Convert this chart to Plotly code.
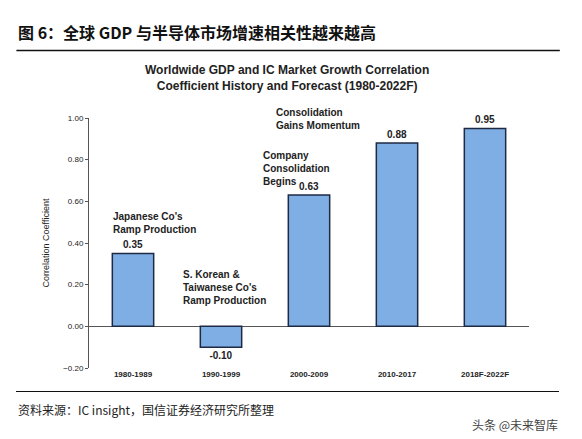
import plotly.graph_objects as go

periods = ['1980-1989', '1990-1999', '2000-2009', '2010-2017', '2018F-2022F']
corr = [0.35, -0.10, 0.63, 0.88, 0.95]
value_labels = ['0.35', '-0.10', '0.63', '0.88', '0.95']
notes = [
    (-0.25, 0.43, "Japanese Co's<br>Ramp Production"),
    (0.55, 0.09, "S. Korean &<br>Taiwanese Co's<br>Ramp Production"),
    (1.45, 0.66, "Company<br>Consolidation<br>Begins"),
    (1.6, 0.93, "Consolidation<br>Gains Momentum"),
]
yticks = [-0.2, 0, 0.2, 0.4, 0.6, 0.8, 1.0]

fig = go.Figure()
fig.add_trace(go.Bar(
    x=periods, y=corr, width=0.47,
    marker=dict(color='#7eaee3', line=dict(color='#1e2a44', width=1.5)),
    text=['<b>' + v + '</b>' for v in value_labels], textposition='outside', cliponaxis=False,
    textfont=dict(family='Arial, Liberation Sans', size=10, color='#222'),
))

for xi, yi, t in notes:
    fig.add_annotation(x=xi, y=yi, text='<b>' + t + '</b>', showarrow=False,
                       xref='x', yref='y', xanchor='left', yanchor='bottom', align='left',
                       font=dict(family='Arial, Liberation Sans', size=10, color='#222'))

fig.add_annotation(text='<b>图 6：全球 GDP 与半导体市场增速相关性越来越高</b>', xref='paper', yref='paper',
                   x=-0.165, y=1.345, xanchor='left', yanchor='middle', showarrow=False,
                   font=dict(family='Noto Sans CJK SC', size=16, color='#111'))
fig.add_annotation(text='<b>Worldwide GDP and IC Market Growth Correlation<br>Coefficient History and Forecast (1980-2022F)</b>',
                   xref='paper', yref='paper', x=0.45, y=1.16, xanchor='center', yanchor='middle', showarrow=False,
                   font=dict(family='Arial, Liberation Sans', size=12, color='#222'))
fig.add_annotation(text='资料来源：IC insight，国信证券经济研究所整理', xref='paper', yref='paper',
                   x=-0.165, y=-0.165, xanchor='left', yanchor='middle', showarrow=False,
                   font=dict(family='Noto Sans CJK SC', size=12, color='#222'))
fig.add_annotation(text='头条 @未来智库', xref='paper', yref='paper',
                   x=1.07, y=-0.225, xanchor='right', yanchor='middle', showarrow=False,
                   font=dict(family='Noto Sans CJK SC', size=12, color='#444'))
fig.add_shape(type='line', xref='paper', yref='paper', x0=-0.165, x1=1.07, y0=1.27, y1=1.27,
              line=dict(color='#111', width=1.5))
# bottom rule as a thin filled annotation box
fig.add_annotation(text='', xref='paper', yref='paper', x=-0.165, y=-0.094,
                   xanchor='left', yanchor='middle', showarrow=False,
                   width=543, height=1, bgcolor='#111', borderpad=0, borderwidth=0)

fig.update_layout(
    width=582, height=439, plot_bgcolor='white', paper_bgcolor='white',
    margin=dict(l=81, r=61, t=110, b=79), showlegend=False, bargap=0.5,
    font=dict(family='Arial, Liberation Sans', size=8, color='#222'),
)
fig.update_xaxes(showline=False, ticks='', tickfont=dict(size=8), zeroline=False,
                 tickprefix='<b>', ticksuffix='</b>')
fig.update_yaxes(range=[-0.2, 1.0], tickvals=yticks, tickformat='.2f', showgrid=False,
                 showline=True, linecolor='#555', ticks='outside', ticklen=3, tickcolor='#555',
                 zeroline=True, zerolinecolor='#555', zerolinewidth=1,
                 title=dict(text='Correlation Coefficient', font=dict(size=9), standoff=12))
fig.write_html('out.html')
